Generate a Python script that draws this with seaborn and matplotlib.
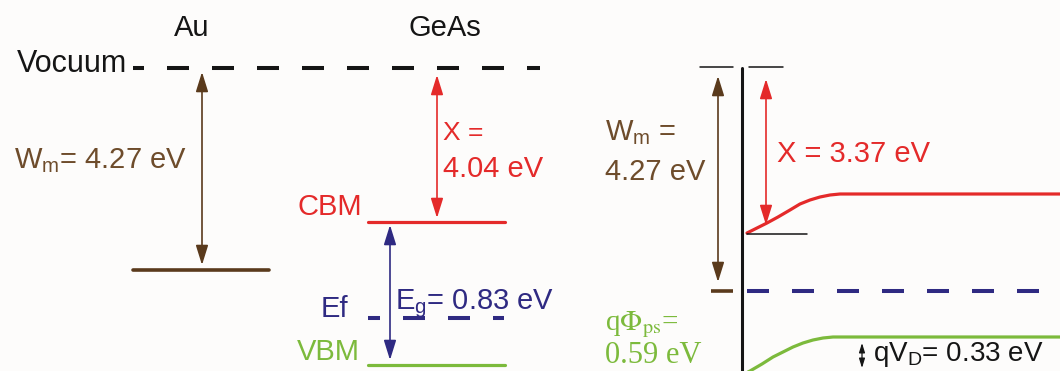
import matplotlib
matplotlib.use('Agg')
import matplotlib.pyplot as plt
import numpy as np
import pandas as pd
import seaborn as sns

# colours of the scheme
brown = '#6e4c2b'
brown_dark = '#5a3a1c'
red = '#e42a2a'
blue = '#2f2a82'
green = '#7cba3c'
black = '#151515'

# --- left panel: flat band levels (diagram units, y grows downward) ---
level_names = ['Vocuum', 'Au', 'CBM', 'Ef', 'VBM']
level_y = [68, 270, 222, 318, 365]
level_x0 = [133, 133, 368, 368, 368]
level_x1 = [540, 269, 505, 504, 505]

# --- right panel: band bending after contact ---
cb_x = [747, 757, 767, 778, 790, 800, 810, 820, 830, 840, 860, 1060]
cb_y = [233, 228, 223, 217, 210, 204, 200, 197, 195, 194, 194, 194]
vb_x = [746, 750, 762, 773, 783, 793, 803, 813, 823, 833, 850, 1060]
vb_y = [373, 371, 364, 357, 352, 347, 343, 340, 338, 337, 337, 337]
ef_right_y = 291
interface_x = 742

# energies shown in the labels
wm = 4.27
chi_bulk = 4.04
chi_surf = 3.37
eg = 0.83
phi_ps = 0.59
qvd = 0.33

sns.set_theme(style='white')
plt.rcParams['font.family'] = ['Liberation Sans', 'DejaVu Sans']
plt.rcParams['mathtext.fontset'] = 'custom'
plt.rcParams['mathtext.rm'] = 'Liberation Sans'
plt.rcParams['mathtext.it'] = 'Liberation Sans:italic'
plt.rcParams['mathtext.bf'] = 'Liberation Sans:bold'
plt.rcParams['lines.scale_dashes'] = False

fig = plt.figure(figsize=(10.6, 3.71), dpi=100, facecolor='#fdfcfb')
ax = fig.add_axes([0, 0, 1, 1])
ax.set_facecolor('#fdfcfb')
ax.set_xlim(0, 1060)
ax.set_ylim(371, 0)
ax.axis('off')

px = 0.72  # points per pixel


def dash(offset):
    return (offset * px, (22 * px, 23 * px))


# left levels
lv = pd.DataFrame({'name': level_names, 'y': level_y, 'x0': level_x0, 'x1': level_x1})
styles = {
    'Vocuum': dict(color=black, lw=2.9, ls=dash(11)),
    'Au': dict(color=brown_dark, lw=2.6, ls='-'),
    'CBM': dict(color=red, lw=2.3, ls='-'),
    'Ef': dict(color=blue, lw=2.9, ls=dash(10)),
    'VBM': dict(color=green, lw=2.3, ls='-'),
}
for _, r in lv.iterrows():
    st = styles[r['name']]
    sns.lineplot(x=[r['x0'], r['x1']], y=[r['y'], r['y']], ax=ax, color=st['color'],
                 lw=st['lw'], linestyle=st['ls'], estimator=None, sort=False)

# right side bands
sns.lineplot(x=cb_x, y=cb_y, ax=ax, color=red, lw=2.3, estimator=None, sort=False)
sns.lineplot(x=vb_x, y=vb_y, ax=ax, color=green, lw=2.3, estimator=None, sort=False)
ax.plot([747, 1060], [ef_right_y, ef_right_y], color=blue, lw=2.9, ls=dash(0))
ax.plot([711, 733], [ef_right_y, ef_right_y], color=brown_dark, lw=2.6, solid_capstyle='butt')
ax.plot([interface_x, interface_x], [68, 371], color=black, lw=2.2)
ax.plot([700, 733], [67, 67], color=black, lw=1.1)
ax.plot([749, 783], [67, 67], color=black, lw=1.1)
ax.plot([747, 807], [234, 234], color=black, lw=1.1)


def arrow(x, y0, y1, color, lw=1.2, ms=15):
    ax.annotate('', xy=(x, y1), xytext=(x, y0),
                arrowprops=dict(arrowstyle='<|-|>,head_length=0.8,head_width=0.25',
                                color=color, lw=lw, mutation_scale=ms,
                                shrinkA=0, shrinkB=0))


arrow(202, 72, 265, brown_dark)
arrow(437, 75, 218, red)
arrow(390, 225, 360, blue)
arrow(718, 76, 282, brown_dark)
arrow(766, 79, 225, red)
arrow(718, 299, 373, green)
arrow(862, 343, 368, black, lw=0.9, ms=7)

# text
fs = 21
ax.text(192, 28, 'Au', fontsize=fs, color=black, ha='center', va='center')
ax.text(445, 28, 'GeAs', fontsize=fs, color=black, ha='center', va='center')
ax.text(17, 72, 'Vocuum', fontsize=22, color=black, ha='left', va='baseline')
ax.text(14, 168, 'W$_\\mathrm{m}$= %.2f eV' % wm, fontsize=fs, color=brown, va='baseline')
ax.text(443, 140, 'Χ =', fontsize=19, color=red, va='baseline')
ax.text(443, 177, '%.2f eV' % chi_bulk, fontsize=fs, color=red, va='baseline')
ax.text(362, 215, 'CBM', fontsize=fs, color=red, ha='right', va='baseline')
ax.text(348, 317, 'Ef', fontsize=fs, color=blue, ha='right', va='baseline')
ax.text(395, 309, 'E$_\\mathrm{g}$= %.2f eV' % eg, fontsize=fs, color=blue, va='baseline')
ax.text(360, 360, 'VBM', fontsize=fs, color=green, ha='right', va='baseline')

ax.text(605, 140, 'W$_\\mathrm{m}$ =', fontsize=fs, color=brown, va='baseline')
ax.text(605, 180, '%.2f eV' % wm, fontsize=fs, color=brown, va='baseline')
ax.text(777, 162, 'Χ = %.2f eV' % chi_surf, fontsize=fs, color=red, va='baseline')
ax.text(605, 330, 'q$\\Phi_\\mathrm{ps}$=', fontsize=fs, color=green, va='baseline',
        fontfamily=['Liberation Serif', 'DejaVu Serif'], math_fontfamily='stix')
ax.text(605, 363, '%.2f eV' % phi_ps, fontsize=22, color=green, va='baseline',
        fontfamily=['Liberation Serif', 'DejaVu Serif'])
ax.text(873, 361, 'qV$_\\mathrm{D}$= %.2f eV' % qvd, fontsize=20, color=black, va='baseline')

fig.savefig('out.png', dpi=100, facecolor=fig.get_facecolor())
